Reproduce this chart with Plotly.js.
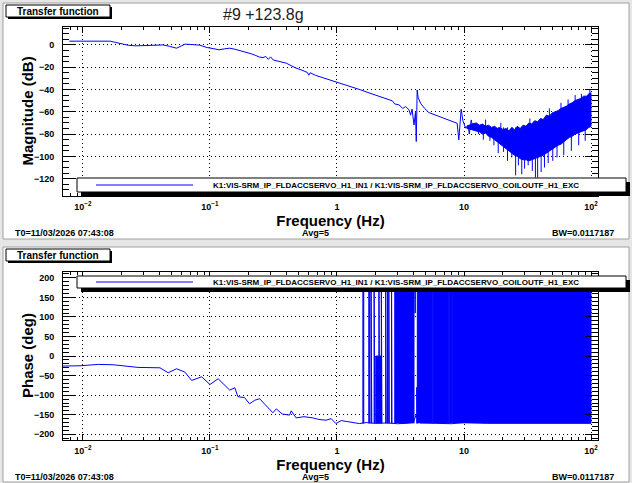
<!DOCTYPE html>
<html>
<head>
<meta charset="utf-8">
<script src="https://cdn.plot.ly/plotly-3.0.1.min.js"></script>
<style>html,body{margin:0;padding:0;background:#fff}#tf{width:632px;height:483px}</style>
</head>
<body>
<div id="tf"></div>
<script>
// magnitude, clean part of the sweep (Hz, dB)
const magFreq = [0.0078, 0.0164, 0.018, 0.0205, 0.0228, 0.026, 0.030, 0.036, 0.0428, 0.048, 0.0546, 0.060, 0.0635, 0.072, 0.083,
  0.095, 0.105, 0.118, 0.130, 0.143, 0.158, 0.177, 0.195, 0.211, 0.230, 0.246, 0.262, 0.275, 0.288, 0.300, 0.315, 0.350,
  0.398, 0.435, 0.477, 0.530, 0.585, 0.600, 0.615, 0.680, 0.771, 0.870, 0.980, 1.08, 1.18, 1.35, 1.54, 1.75, 2.02, 2.35,
  2.73, 2.85, 3.08, 3.30, 3.47, 3.69, 3.80, 3.90, 4.04, 4.15, 4.21, 4.28, 4.35, 4.55, 4.90, 5.29, 6.00, 7.16, 8.00, 8.83,
  9.10, 9.50, 9.80, 10.3, 10.8, 11.0, 11.4, 11.7, 12.5];
const magDb = [3.3, 3.3, 2.2, 0.9, -0.4, -0.9, -0.6, -0.2, -0.1, -1.3, -3.0, -0.8, 0.6, 0.3, -0.3,
  -2.4, -3.6, -4.4, -3.6, -3.0, -4.0, -5.4, -6.6, -8.0, -9.6, -11.0, -11.4, -10.4, -13.0, -10.8, -13.6, -14.6,
  -16.4, -18.6, -20.9, -22.7, -24.8, -27.2, -25.0, -27.4, -29.3, -31.1, -32.9, -34.6, -35.9, -38.2, -40.4, -42.7, -44.9, -47.6,
  -50.2, -53.0, -53.8, -57.0, -55.3, -58.3, -63.0, -57.5, -71.8, -60.5, -86.7, -40.4, -47.0, -52.3, -57.0, -60.7, -63.0, -66.7, -68.5, -70.3,
  -85.2, -57.7, -68.0, -74.7, -72.0, -80.0, -67.3, -74.0, -73.0];

// above ~10 Hz the bins are noise: upper and lower edge of the dense band
const bandFreq = [10.5, 11.5, 12.5, 13.2, 14, 14.8, 15.6, 16.5, 17.4, 18.3, 19.3, 20.3, 21.4, 22.6, 23.8, 25, 26.3, 27.7, 29.2, 30.8,
  32.4, 34.1, 36, 38, 40, 42, 44.5, 47, 49.5, 52, 55, 58, 61, 64, 67.5, 71, 75, 79, 83, 87.5, 92, 96, 100];
const bandHi = [-73, -71, -70, -72, -71, -73, -72, -74, -73, -75, -74, -76, -75, -77, -74, -76, -73, -75, -72, -73,
  -70, -71, -68, -69, -66, -67, -63, -64, -61, -60, -59, -57, -56, -55, -53, -52, -50, -49, -48, -46, -46, -44, -43];
const bandLo = [-75, -76, -77, -78, -80, -79, -82, -83, -85, -87, -89, -91, -93, -95, -97, -99, -100, -102, -103, -103,
  -104, -103, -102, -101, -100, -99, -97, -95, -93, -92, -90, -89, -87, -85, -83, -82, -80, -79, -78, -77, -76, -74, -73];
// single bins sticking out of the band
const spikeFreq = [13.0, 14.2, 14.8, 16.0, 17.2, 18.6, 19.5, 20.5, 22.0, 23.8, 25.5, 26.8, 28.5, 30.0, 32.0, 33.0, 34.5,
  36.5, 38.0, 40.5, 43.0, 46.0, 47.0, 50.0, 54.0, 58.0, 61.0, 66.0, 70.0, 75.0, 80.0, 84.0, 90.0, 98.0];
const spikeDb = [-80, -85, -67, -86, -90, -97, -70, -96, -104, -101, -117, -108, -116, -111, -108, -66, -113,
  -119, -119, -114, -110, -106, -57, -104, -101, -52, -99, -49, -95, -45, -90, -44, -86, -40];
const SPIKE_BASE = -74;

// phase (Hz, deg)
const phaseFreq = [0.0067, 0.0095, 0.0132, 0.0173, 0.0272, 0.0404, 0.0469, 0.0546, 0.0635, 0.0717, 0.086, 0.100, 0.116,
  0.143, 0.157, 0.166, 0.187, 0.205, 0.225, 0.246, 0.270, 0.313, 0.333, 0.370, 0.423, 0.436, 0.477, 0.550, 0.644, 0.720,
  0.820, 0.900, 0.980, 1.08, 1.18, 1.30, 1.50, 1.70, 2.00, 2.50, 3.00, 3.50, 4.00, 4.20, 4.30, 4.50, 5.0, 6.0, 8.0, 10,
  15, 20, 30, 50, 70, 100];
const phaseDeg = [-25.6, -24.8, -21.3, -22.2, -29, -30, -42.7, -32.4, -41, -62.3, -52.9, -72.6, -58,
  -87, -81, -104, -106, -122, -113, -109, -123, -145, -135, -148, -151, -140, -158, -155, -158, -162,
  -164, -160, -172.6, -165, -167, -170, -172.6, -170, -172, -171, -173, -172, -170, -150, -160, -171, -172, -172, -173, -170,
  -172, -172, -171, -172, -171, -172];
// stretches where the phase flips between -180 and +180 from bin to bin
const wrapStart = [1.600, 1.780, 1.855, 1.960, 2.020, 2.140, 2.235, 2.420, 2.500, 2.560, 2.690, 2.850, 4.120, 4.250, 4.290, 5.760, 7.640, 8.160];
const wrapEnd   = [1.625, 1.810, 1.880, 1.985, 2.240, 2.165, 2.260, 2.440, 2.520, 2.580, 2.710, 4.040, 4.140, 4.280, 5.680, 7.580, 8.080, 100];
const wrapLow   = [-172, -172, -172, -172, -172, -172, -172, -172, -172, -172, -172, -172, 110, -172, -172, -172, -172, -172];
const wrapHigh  = [180, 180, 180, 180, 0, 180, 180, 180, 180, 180, 180, 180, 180, -80, 180, 180, 180, 180];

const xTickVals = [0.01, 0.1, 1, 10, 100];
const xTickText = ['10<sup>−2</sup>', '10<sup>−1</sup>', '1', '10', '10<sup>2</sup>'];
const legendText = 'K1:VIS-SRM_IP_FLDACCSERVO_H1_IN1 / K1:VIS-SRM_IP_FLDACCSERVO_COILOUTF_H1_EXC';

const BLUE = '#0000ff';
const FONT = 'Liberation Sans, Arial, Helvetica, sans-serif';
const W = 632, H = 483;
const px = x => x / W;
const py = y => 1 - y / H;

const minorX = [];
for (let d = -3; d <= 2; d++) for (let k = 2; k <= 9; k++) minorX.push(k * Math.pow(10, d));

function line(x, y, xa, ya) {
  return { x: x, y: y, xaxis: xa, yaxis: ya, type: 'scatter', mode: 'lines',
    line: { color: BLUE, width: 1 }, hoverinfo: 'skip', showlegend: false };
}

const traces = [];
// magnitude
const bx = bandFreq.concat(bandFreq.slice().reverse());
const by = bandHi.concat(bandLo.slice().reverse());
traces.push(Object.assign(line(bx, by, 'x', 'y'), { fill: 'toself', fillcolor: BLUE }));
traces.push(line(spikeFreq.flatMap(f => [f, f, null]), spikeDb.flatMap(v => [SPIKE_BASE, v, null]), 'x', 'y'));
traces.push(line(magFreq, magDb, 'x', 'y'));
// phase
for (let i = 0; i < wrapStart.length; i++) {
  const s = wrapStart[i], e = wrapEnd[i];
  traces.push(Object.assign(line([s, s, e, e], [wrapLow[i], wrapHigh[i], wrapHigh[i], wrapLow[i]], 'x2', 'y2'),
    { fill: 'toself', fillcolor: BLUE }));
}
traces.push(line(phaseFreq, phaseDeg, 'x2', 'y2'));

const tickFont = { family: FONT, size: 9, weight: 'bold', color: '#000' };
const titleFont = { family: FONT, size: 15, weight: 'bold', color: '#000' };
const frame = { showline: true, linecolor: '#000', linewidth: 1, mirror: 'allticks', zeroline: false,
  ticks: 'inside', tickcolor: '#000', tickwidth: 1, tickfont: tickFont,
  showgrid: true, gridcolor: '#000', gridwidth: 1, griddash: '1px,3px' };

function xAxis(anchor) {
  return Object.assign({}, frame, {
    type: 'log', range: [-2.157, 2.055], domain: [px(63), px(598)], anchor: anchor,
    tickmode: 'array', tickvals: xTickVals, ticktext: xTickText, ticklen: 6, ticklabelstandoff: 2,
    minor: { tickmode: 'array', tickvals: minorX, ticks: 'inside', ticklen: 3, tickcolor: '#000', showgrid: false },
    title: { text: 'Frequency (Hz)', font: titleFont, standoff: 3 }
  });
}
function yAxis(top, bottom, range, dtick, minorStep, anchor) {
  return Object.assign({}, frame, {
    range: range, domain: [py(bottom), py(top)], anchor: anchor,
    tick0: 0, dtick: dtick, ticklen: 13, ticklabelstandoff: 6,
    minor: { dtick: minorStep, ticks: 'inside', ticklen: 6, tickcolor: '#000', showgrid: false }
  });
}

function rect(x0, y0, x1, y1, fill, lineColor, layer) {
  return { type: 'rect', xref: 'paper', yref: 'paper', x0: px(x0), x1: px(x1), y0: py(y1), y1: py(y0),
    fillcolor: fill, line: { color: lineColor || fill, width: lineColor ? 1 : 0 }, layer: layer || 'above' };
}
function hline(x0, x1, y, color) {
  return { type: 'line', xref: 'paper', yref: 'paper', x0: px(x0), x1: px(x1), y0: py(y), y1: py(y),
    line: { color: color, width: 1 }, layer: 'above' };
}
function text(t, x, y, size, opts) {
  return Object.assign({ text: t, xref: 'paper', yref: 'paper', x: px(x), y: py(y), showarrow: false,
    xanchor: 'center', yanchor: 'middle', font: { family: FONT, size: size, weight: 'bold', color: '#000' } }, opts || {});
}

const shapes = [
  rect(3, 3, 629, 239, '#ffffff', '#a0a0a0', 'below'),
  rect(3, 247, 629, 482, '#ffffff', '#a0a0a0', 'below'),
  // pad titles
  rect(8, 7, 112, 19, '#000'), rect(6, 5, 110, 17, '#ffffff', '#000'),
  rect(8, 251, 112, 263, '#000'), rect(6, 249, 110, 261, '#ffffff', '#000'),
  // legends
  rect(81, 182, 630, 196, '#000'), rect(77, 178, 626, 192, '#ffffff', '#000'), hline(96, 193, 185, BLUE),
  rect(81, 280, 630, 292, '#000'), rect(77, 276, 626, 288, '#ffffff', '#000'), hline(96, 193, 282, BLUE)
];

const annotations = [
  text('Transfer function', 58, 11, 10), text('Transfer function', 58, 255, 10),
  text('#9 +123.8g', 263, 14, 16, { font: { family: FONT, size: 16, color: '#222' } }),
  text('Magnitude (dB)', 27, 111.5, 15, { textangle: -90 }),
  text('Phase (deg)', 27, 356, 15, { textangle: -90 }),
  text(legendText, 395.5, 185, 8), text(legendText, 395.5, 282, 8),
  text('T0=11/03/2026 07:43:08', 13, 232.5, 9, { xanchor: 'left' }),
  text('Avg=5', 315, 232.5, 9), text('BW=0.0117187', 616, 232.5, 9, { xanchor: 'right' }),
  text('T0=11/03/2026 07:43:08', 13, 477, 9, { xanchor: 'left' }),
  text('Avg=5', 315, 477, 9), text('BW=0.0117187', 616, 477, 9, { xanchor: 'right' })
];

const layout = {
  width: W, height: H, margin: { l: 0, r: 0, t: 0, b: 0 },
  paper_bgcolor: '#e6e6e6', plot_bgcolor: '#ffffff', font: { family: FONT },
  showlegend: false,
  xaxis: xAxis('y'),
  yaxis: yAxis(27, 196, [-135.5, 16], 20, 5, 'x'),
  xaxis2: xAxis('y2'),
  yaxis2: yAxis(272, 440, [-214.6, 215], 50, 10, 'x2'),
  shapes: shapes, annotations: annotations
};

Plotly.newPlot('tf', traces, layout, { displayModeBar: false, staticPlot: true });
</script>
</body>
</html>
